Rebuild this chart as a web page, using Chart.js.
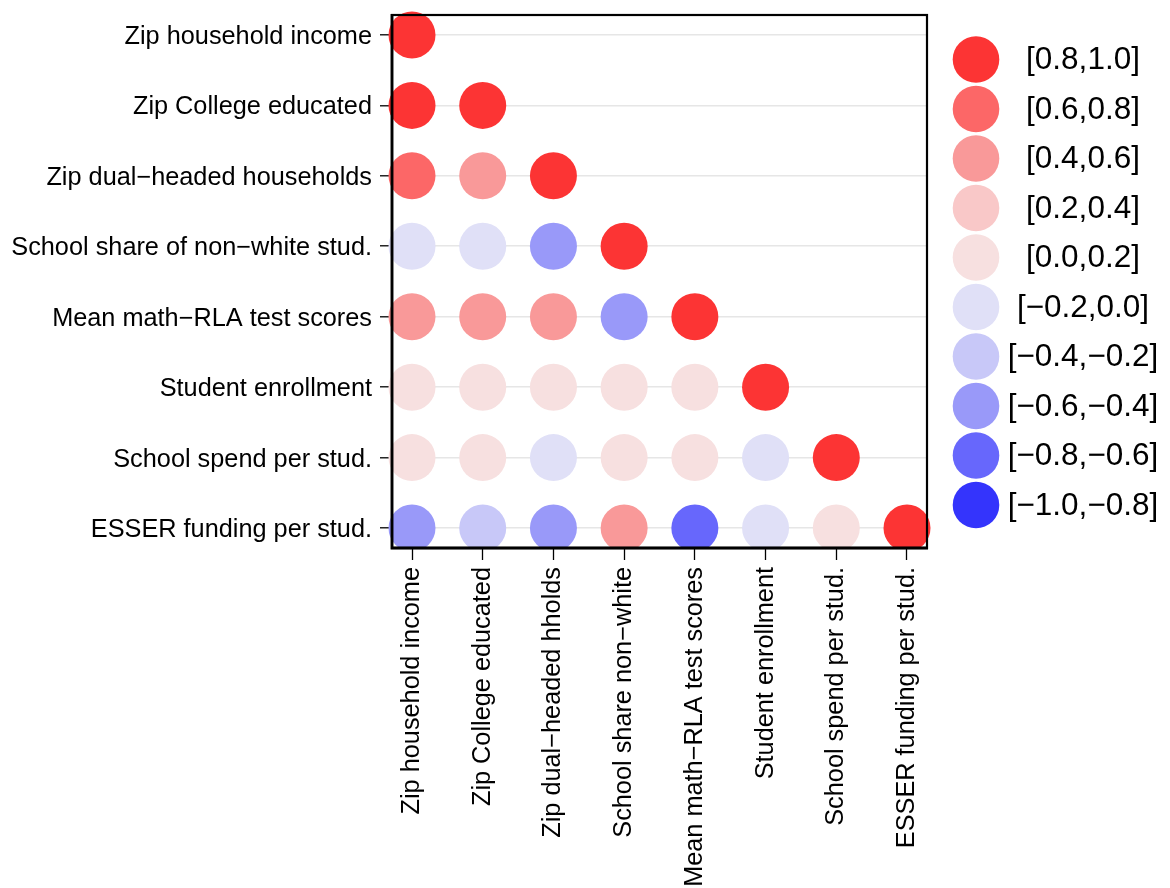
<!DOCTYPE html>
<html>
<head>
<meta charset="utf-8">
<title>Correlation matrix</title>
<script src="https://cdn.jsdelivr.net/npm/chart.js@4/dist/chart.umd.min.js"></script>
<style>
  html, body { margin: 0; padding: 0; background: #ffffff; }
  canvas { display: block; }
</style>
</head>
<body>
<canvas id="corr" width="1170" height="888"></canvas>
<script>
// Variables on the vertical axis (top to bottom)
const rowLabels = [
  "Zip household income",
  "Zip College educated",
  "Zip dual\u2212headed households",
  "School share of non\u2212white stud.",
  "Mean math\u2212RLA test scores",
  "Student enrollment",
  "School spend per stud.",
  "ESSER funding per stud."
];

// Variables on the horizontal axis (left to right)
const colLabels = [
  "Zip household income",
  "Zip College educated",
  "Zip dual\u2212headed hholds",
  "School share non\u2212white",
  "Mean math\u2212RLA test scores",
  "Student enrollment",
  "School spend per stud.",
  "ESSER funding per stud."
];

// Lower-triangle correlations, one array per row (row i has i+1 entries)
const corrIncome     = [1.00];
const corrCollege    = [0.86, 1.00];
const corrDualHead   = [0.70, 0.50, 1.00];
const corrNonWhite   = [-0.10, -0.08, -0.50, 1.00];
const corrTestScores = [0.50, 0.52, 0.48, -0.50, 1.00];
const corrEnrollment = [0.08, 0.10, 0.06, 0.12, 0.10, 1.00];
const corrSpend      = [0.06, 0.04, -0.05, 0.10, 0.08, -0.10, 1.00];
const corrESSER      = [-0.45, -0.30, -0.48, 0.45, -0.65, -0.10, 0.08, 1.00];

const corrRows = [corrIncome, corrCollege, corrDualHead, corrNonWhite,
                  corrTestScores, corrEnrollment, corrSpend, corrESSER];

// Colour bins, from highest to lowest
const binLabels = ["[0.8,1.0]", "[0.6,0.8]", "[0.4,0.6]", "[0.2,0.4]", "[0.0,0.2]",
                   "[\u22120.2,0.0]", "[\u22120.4,\u22120.2]", "[\u22120.6,\u22120.4]",
                   "[\u22120.8,\u22120.6]", "[\u22121.0,\u22120.8]"];
const binLower  = [0.8, 0.6, 0.4, 0.2, 0.0, -0.2, -0.4, -0.6, -0.8, -1.0];
const binColors = ["#FC3434", "#FC6767", "#F99999", "#F9C8C8", "#F7E0E0",
                   "#E0E0F7", "#C8C8F8", "#9999F9", "#6767FC", "#3434FC"];

function binIndex(v) {
  for (let k = 0; k < binLower.length; k++) {
    if (v >= binLower[k]) return k;
  }
  return binLower.length - 1;
}

const points = [];
corrRows.forEach((row, i) => {
  row.forEach((v, j) => points.push({ x: j, y: i, r: v }));
});

const FONT = "'Liberation Sans', Arial, Helvetica, sans-serif";
const DOT_R = 23.5;

// Black frame around the plotting area, drawn above the dots
const framePlugin = {
  id: 'frame',
  afterDatasetsDraw(chart) {
    const a = chart.chartArea, ctx = chart.ctx;
    ctx.save();
    ctx.strokeStyle = '#000';
    ctx.lineWidth = 2.2;
    ctx.strokeRect(a.left, a.top, a.right - a.left, a.bottom - a.top);
    ctx.lineWidth = 2.8;
    ctx.beginPath();
    ctx.moveTo(a.left, a.top - 1);
    ctx.lineTo(a.left, a.bottom);
    ctx.lineTo(a.right + 1, a.bottom);
    ctx.stroke();
    ctx.restore();
  }
};

// Legend of colour bins: dot on the left, centred range label
const binLegendPlugin = {
  id: 'binLegend',
  afterDraw(chart) {
    const ctx = chart.ctx;
    const x0 = chart.chartArea.right + 49;
    const y0 = chart.chartArea.top + 44.5;
    const step = 49.5;
    ctx.save();
    ctx.font = "31.5px " + FONT;
    ctx.textAlign = 'center';
    ctx.textBaseline = 'middle';
    binLabels.forEach((lab, k) => {
      const y = y0 + k * step;
      ctx.beginPath();
      ctx.arc(x0, y, 23.3, 0, Math.PI * 2);
      ctx.fillStyle = binColors[k];
      ctx.fill();
      ctx.fillStyle = '#000';
      ctx.fillText(lab, x0 + 107, y + 1);
    });
    ctx.restore();
  }
};

const pad = 20 / 70.7;

new Chart(document.getElementById('corr'), {
  type: 'scatter',
  data: {
    datasets: [{
      data: points,
      pointRadius: DOT_R,
      pointHoverRadius: DOT_R,
      pointBorderWidth: 0,
      pointBackgroundColor: ctx => binColors[binIndex(ctx.raw.r)],
      pointBorderColor: ctx => binColors[binIndex(ctx.raw.r)],
      clip: { left: false, top: false, right: false, bottom: 0 }
    }]
  },
  options: {
    responsive: false,
    animation: false,
    events: [],
    layout: { autoPadding: false, padding: { top: 15, right: 243, left: 0, bottom: 0 } },
    plugins: { legend: { display: false }, tooltip: { enabled: false } },
    scales: {
      x: {
        type: 'linear',
        min: -pad,
        max: colLabels.length - 1 + pad,
        afterBuildTicks: s => { s.ticks = colLabels.map((_, i) => ({ value: i })); },
        afterFit: s => { s.height = 340; s.paddingLeft = 0; s.paddingRight = 0; },
        border: { display: false },
        grid: {
          drawOnChartArea: false,
          drawTicks: true,
          tickLength: 12,
          tickColor: '#000',
          tickWidth: 1.3
        },
        ticks: {
          autoSkip: false,
          minRotation: 90,
          maxRotation: 90,
          padding: 7,
          color: '#000',
          font: { family: FONT, size: 25.3 },
          callback: v => colLabels[v]
        }
      },
      y: {
        type: 'linear',
        reverse: true,
        min: -pad,
        max: rowLabels.length - 1 + pad,
        afterBuildTicks: s => { s.ticks = rowLabels.map((_, i) => ({ value: i })); },
        afterFit: s => { s.width = 392; s.paddingTop = 0; s.paddingBottom = 0; },
        border: { display: false },
        grid: {
          drawOnChartArea: true,
          color: '#E6E6E6',
          lineWidth: 1.6,
          drawTicks: true,
          tickLength: 12,
          tickColor: '#000',
          tickWidth: 1.3
        },
        ticks: {
          autoSkip: false,
          padding: 8,
          labelOffset: 2,
          color: '#000',
          font: { family: FONT, size: 25.3 },
          callback: v => rowLabels[v]
        }
      }
    }
  },
  plugins: [framePlugin, binLegendPlugin]
});
</script>
</body>
</html>
